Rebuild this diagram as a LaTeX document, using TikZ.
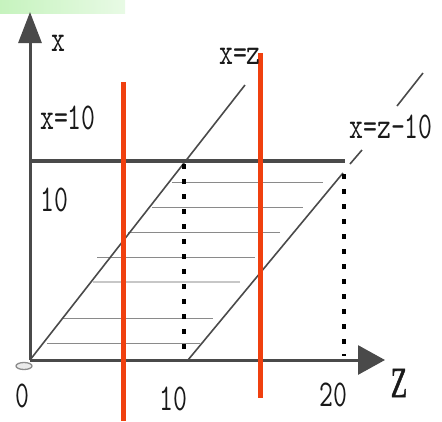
\documentclass[tikz,border=0pt]{standalone}
\usepackage{graphicx}
\usepackage{fontspec}
\usetikzlibrary{arrows.meta}
\newfontfamily\lblserif{Liberation Serif}[FakeBold=1.5]
\definecolor{axisgray}{HTML}{4A4A4A}
\definecolor{redline}{HTML}{F0400F}
\definecolor{greenbar}{HTML}{C6F3BE}
\definecolor{hatch}{HTML}{8A8A8A}
\newcommand{\tallt}[1]{\scalebox{1}[1.4]{#1}}
\tikzset{
  axis/.style={draw=axisgray, line width=3pt},
  tenline/.style={draw=axisgray, line width=4pt},
  diag/.style={draw=axisgray, line width=1.6pt},
  hatchline/.style={draw=hatch, line width=1pt},
  hatchlight/.style={draw=black!22, line width=2.2pt},
  dotline/.style={draw=black, line width=4.5pt, dash pattern=on 4.5pt off 10.5pt},
  redv/.style={draw=redline, line width=5pt},
  lbl/.style={inner sep=0pt, text=black!90, font=\fontsize{27}{27}\ttfamily\addfontfeatures{FakeBold=2.5}},
  zlbl/.style={inner sep=0pt, text=black!90, font=\fontsize{27}{27}\lblserif},
}
\begin{document}
\begin{tikzpicture}[x=1pt, y=-1pt]
\useasboundingbox (0,0) rectangle (442,421);
% green bar
\shade[left color=greenbar, right color=greenbar!40, draw=none] (0,0) rectangle (125,13);
% coordinates
\coordinate (O) at (30,360);
\coordinate (xtip) at (30,12);
\coordinate (ztip) at (385,360);
\coordinate (tenL) at (30,161);
\coordinate (tenR) at (345,161);
\coordinate (d1a) at (30,360);
\coordinate (d1b) at (245,85);
\coordinate (d2a) at (188,360);
\coordinate (d2b) at (343,173);
\coordinate (d2c) at (350,164);
\coordinate (d2d) at (362,150);
\coordinate (d2e) at (397,106);
\coordinate (d2f) at (423,73);
\coordinate (p1a) at (184,164);
\coordinate (p1b) at (184,356);
\coordinate (p2a) at (344,174);
\coordinate (p2b) at (344,356);
\coordinate (r1a) at (123,82);
\coordinate (r1b) at (123,421);
\coordinate (r2a) at (260,53);
\coordinate (r2b) at (260,398);
% hatching
\coordinate (h1a) at (172,182); \coordinate (h1b) at (323,182);
\coordinate (h2a) at (152,207); \coordinate (h2b) at (303,207);
\coordinate (h3a) at (128,232); \coordinate (h3b) at (280,232);
\coordinate (h4a) at (97,257);  \coordinate (h4b) at (255,257);
\coordinate (h5a) at (93,282);  \coordinate (h5b) at (240,282);
\coordinate (h6a) at (63,318);  \coordinate (h6b) at (213,318);
\coordinate (h7a) at (47,343);  \coordinate (h7b) at (200,343);
\draw[hatchline] (h1a) -- (h1b);
\draw[hatchline] (h2a) -- (h2b);
\draw[hatchline] (h3a) -- (h3b);
\draw[hatchline] (h4a) -- (h4b);
\draw[hatchlight] (h5a) -- (h5b);
\draw[hatchline] (h6a) -- (h6b);
\draw[hatchline] (h7a) -- (h7b);
% diagonals
\draw[diag] (d1a) -- (d1b);
\draw[diag] (d2a) -- (d2b);
\draw[diag] (d2c) -- (d2d);
\draw[diag] (d2e) -- (d2f);
% dotted
\draw[dotline] (p1a) -- (p1b);
\draw[dotline] (p2a) -- (p2b);
% x = 10 line
\draw[tenline] (tenL) -- (tenR);
% axes
\draw[axis, -{Triangle[length=31pt,width=23pt]}] (O) -- (xtip);
\draw[axis, -{Triangle[length=27pt,width=29pt]}] (O) -- (ztip);
% origin ellipse
\draw[black!45, fill=black!8, line width=1.3pt] (24,366) ellipse [x radius=8, y radius=3.5];
% red lines
\draw[redv] (r1a) -- (r1b);
\draw[redv] (r2a) -- (r2b);
% labels
\node[lbl] (lx) at (58,43) {\tallt{x}};
\node[lbl] (lx10) at (68,118) {\tallt{x=10}};
\node[lbl] (lten) at (54,200) {\tallt{10}};
\node[lbl] (lxz) at (240,56) {\tallt{x=z}};
\node[lbl] (lxz10) at (391,127) {\tallt{x=z-10}};
\node[lbl] (l0) at (22,396) {\tallt{0}};
\node[lbl] (l10) at (173,399) {\tallt{10}};
\node[lbl] (l20) at (333,395) {\tallt{20}};
\node[zlbl] (lZ) at (399,383) {\scalebox{1}[1.6]{Z}};
\end{tikzpicture}
\end{document}
